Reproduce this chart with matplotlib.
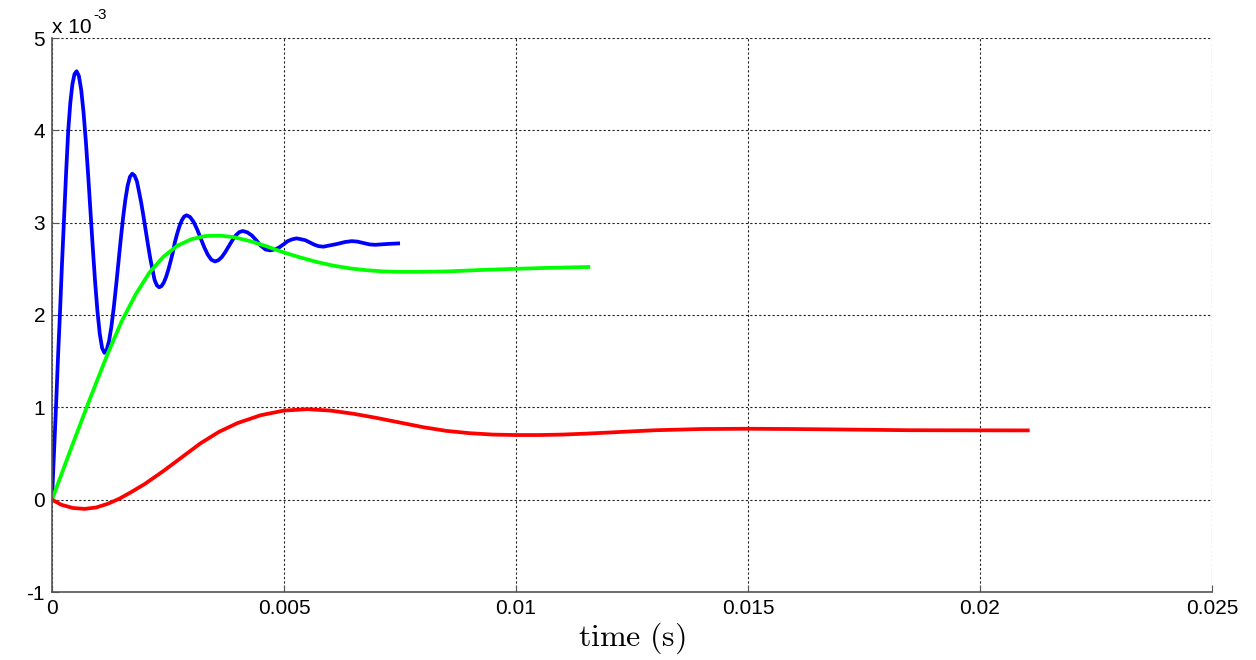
import matplotlib
matplotlib.use("Agg")
import matplotlib.pyplot as plt
import numpy as np

plt.rcParams['font.family'] = ['Liberation Sans', 'DejaVu Sans']
plt.rcParams['axes.unicode_minus'] = False

# values are in units of 1e-3, times in ms

# Blue series
blue_t = [0, 0.045, 0.09, 0.13, 0.17, 0.215, 0.26, 0.305, 0.35, 0.395, 0.44, 0.485, 0.53,
          0.58, 0.63, 0.68, 0.73, 0.78, 0.83, 0.88, 0.93, 0.98, 1.03, 1.08, 1.13,
          1.18, 1.23, 1.28, 1.33, 1.38, 1.43, 1.48, 1.53, 1.58, 1.63, 1.68, 1.73,
          1.78, 1.83, 1.87, 1.92, 1.97, 2.02, 2.07, 2.12, 2.17, 2.21, 2.26, 2.31,
          2.36, 2.41, 2.46, 2.51, 2.56, 2.61, 2.65, 2.70, 2.75, 2.80, 2.85, 2.90,
          2.976, 3.053, 3.129, 3.205, 3.281, 3.358, 3.434, 3.51,
          3.585, 3.66, 3.735, 3.81, 3.885, 3.96, 4.035, 4.11,
          4.21, 4.31, 4.41, 4.50, 4.60, 4.70,
          4.80, 4.89, 4.99, 5.08, 5.18, 5.27,
          5.37, 5.46, 5.56, 5.66, 5.75, 5.85,
          6.00, 6.15, 6.31, 6.46,
          6.58, 6.71, 6.84, 6.96,
          7.10, 7.25, 7.46]
blue_v = [0, 0.53, 1.05, 1.55, 2.0, 2.55, 3.05, 3.55, 4.0, 4.3, 4.5, 4.61, 4.64,
          4.588, 4.436, 4.193, 3.878, 3.51, 3.115, 2.72, 2.352, 2.037, 1.794, 1.642, 1.59,
          1.623, 1.72, 1.874, 2.075, 2.309, 2.56, 2.811, 3.045, 3.246, 3.40, 3.497, 3.53,
          3.509, 3.448, 3.35, 3.223, 3.074, 2.915, 2.756, 2.607, 2.48, 2.382, 2.321, 2.30,
          2.313, 2.352, 2.414, 2.495, 2.589, 2.69, 2.791, 2.885, 2.966, 3.028, 3.067, 3.08,
          3.061, 3.007, 2.926, 2.83, 2.734, 2.653, 2.599, 2.58,
          2.593, 2.628, 2.682, 2.745, 2.808, 2.862, 2.897, 2.91,
          2.895, 2.86, 2.805, 2.75, 2.71, 2.70,
          2.71, 2.73, 2.765, 2.80, 2.82, 2.83,
          2.82, 2.81, 2.785, 2.76, 2.745, 2.74,
          2.755, 2.77, 2.79, 2.80,
          2.795, 2.78, 2.765, 2.76,
          2.765, 2.77, 2.775]

# Green series
green_t = [0, 0.4, 0.8, 1.2, 1.5, 1.8, 2.1, 2.4, 2.7, 3.0, 3.3, 3.6, 3.9,
           4.27, 4.62, 4.98, 5.34, 5.70, 6.06, 6.42, 6.78, 7.14, 7.5, 7.86,
           8.51, 9.22, 9.98, 10.66, 11.56]
green_v = [0, 0.54, 1.07, 1.58, 1.93, 2.22, 2.46, 2.63, 2.75, 2.82, 2.855, 2.86, 2.845,
           2.80, 2.745, 2.68, 2.625, 2.575, 2.535, 2.505, 2.485, 2.472, 2.467, 2.467,
           2.472, 2.487, 2.50, 2.51, 2.52]

# Red series
red_t = [0, 0.2, 0.45, 0.7, 0.95, 1.2, 1.45, 1.7, 2.0, 2.4, 2.8, 3.2, 3.6, 4.0,
         4.5, 5.0, 5.5, 6.0, 6.5, 7.0, 7.5, 8.0, 8.5, 9.0, 9.5, 10.0, 10.5,
         11.0, 11.5, 12.0, 12.5, 13.0, 14.0, 15.0, 16.0, 17.0, 18.5, 21.03]
red_v = [0, -0.055, -0.09, -0.10, -0.085, -0.045, 0.01, 0.08, 0.17, 0.31, 0.46,
         0.61, 0.735, 0.83, 0.915, 0.965, 0.98, 0.965, 0.93, 0.885, 0.835, 0.785,
         0.745, 0.72, 0.705, 0.70, 0.70, 0.705, 0.715, 0.727, 0.74, 0.752, 0.765,
         0.768, 0.765, 0.76, 0.752, 0.75]

x_ticks = [0, 0.005, 0.01, 0.015, 0.02, 0.025]
x_ticklabels = ['0', '0.005', '0.01', '0.015', '0.02', '0.025']
y_ticks = [-1, 0, 1, 2, 3, 4, 5]
y_ticklabels = ['-1', '0', '1', '2', '3', '4', '5']

fig = plt.figure(figsize=(12.56, 6.60), dpi=100)
ax = fig.add_axes([52/1256, (660-592)/660, (1212-52)/1256, (592-38)/660])

def ms(t):
    return np.asarray(t) * 1e-3

lw = 2.7
ax.plot(ms(blue_t), blue_v, color='#0000ff', lw=lw, solid_joinstyle='round')
ax.plot(ms(green_t), green_v, color='#00ff00', lw=lw, solid_joinstyle='round')
ax.plot(ms(red_t), red_v, color='#ff0000', lw=lw, solid_joinstyle='round')

ax.set_xlim(0, 0.025)
ax.set_ylim(-1, 5)
ax.set_xticks(x_ticks)
ax.set_xticklabels(x_ticklabels)
ax.set_yticks(y_ticks)
ax.set_yticklabels(y_ticklabels)

ax.grid(True, color='#222222', linestyle=(0, (2, 2)), linewidth=0.8)
for s in ['top', 'right']:
    ax.spines[s].set_visible(False)
for s in ['left', 'bottom']:
    ax.spines[s].set_color('#555555')
    ax.spines[s].set_linewidth(1.2)
ax.tick_params(direction='in', length=5, width=0.8, colors='#555555',
               labelcolor='black', labelsize=15, pad=5)

ax.set_xlabel(r'$\mathrm{time\ (s)}$', fontsize=23, math_fontfamily='cm', labelpad=2)

fig.text(52/1256, (660-33)/660, 'x 10', fontsize=15, ha='left', va='baseline')
fig.text(93/1256, (660-19)/660, '-3', fontsize=11, ha='left', va='baseline')

fig.savefig('out.png', dpi=100, facecolor='white')
